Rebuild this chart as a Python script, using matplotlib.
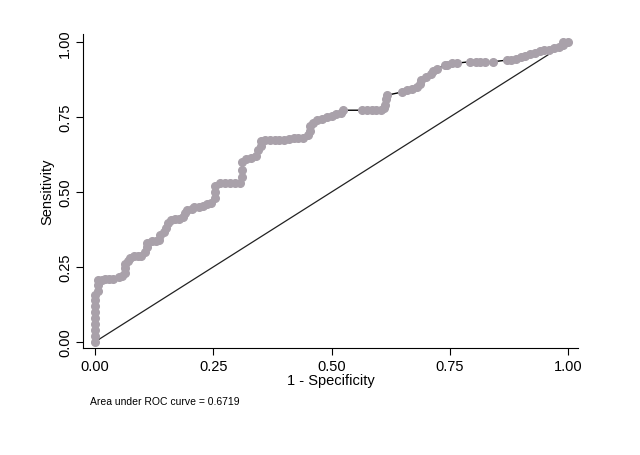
import matplotlib
matplotlib.use('Agg')
import matplotlib.pyplot as plt

plt.rcParams['font.family'] = ['Liberation Sans', 'DejaVu Sans']

# ROC points (1 - specificity, sensitivity)
fpr = [0, 0, 0, 0, 0, 0, 0, 0, 0,
       0.007, 0.007, 0.007,
       0.014, 0.022, 0.03, 0.039,
       0.05, 0.056, 0.063, 0.063, 0.063,
       0.07, 0.074, 0.082, 0.09, 0.098,
       0.105, 0.11, 0.11,
       0.12, 0.128, 0.135, 0.137,
       0.145, 0.15, 0.155, 0.16,
       0.17, 0.177, 0.185, 0.19, 0.195,
       0.205, 0.21, 0.22, 0.228, 0.236,
       0.245, 0.254, 0.254, 0.254,
       0.265, 0.275, 0.285, 0.295, 0.307,
       0.31, 0.31, 0.31,
       0.32, 0.33, 0.34, 0.345, 0.35, 0.35,
       0.36, 0.37, 0.38, 0.39, 0.40, 0.41, 0.42, 0.43, 0.44, 0.45,
       0.455, 0.455, 0.46,
       0.47, 0.48, 0.49, 0.50, 0.51, 0.52, 0.525,
       0.564, 0.575, 0.585, 0.595, 0.605, 0.61, 0.613, 0.615, 0.617,
       0.65, 0.66, 0.67, 0.68, 0.687, 0.69, 0.70, 0.71, 0.715, 0.722,
       0.74, 0.745, 0.755, 0.765,
       0.793, 0.805, 0.815, 0.825, 0.842,
       0.87, 0.88, 0.89, 0.90, 0.91, 0.92, 0.93, 0.94, 0.95, 0.96, 0.97,
       0.98, 0.99, 0.99, 1.0]
tpr = [0, 0.02, 0.04, 0.06, 0.08, 0.10, 0.12, 0.14, 0.155,
       0.17, 0.19, 0.205,
       0.207, 0.21, 0.21, 0.21,
       0.215, 0.22, 0.23, 0.245, 0.26,
       0.27, 0.28, 0.285, 0.285, 0.285,
       0.30, 0.315, 0.33,
       0.335, 0.335, 0.34, 0.355,
       0.365, 0.38, 0.395, 0.405,
       0.41, 0.41, 0.415, 0.43, 0.44,
       0.445, 0.45, 0.45, 0.455, 0.46,
       0.465, 0.48, 0.50, 0.52,
       0.53, 0.53, 0.53, 0.53, 0.53,
       0.55, 0.575, 0.60,
       0.61, 0.615, 0.62, 0.64, 0.655, 0.67,
       0.675, 0.675, 0.675, 0.675, 0.675, 0.677, 0.68, 0.68, 0.68, 0.69,
       0.705, 0.72, 0.73,
       0.74, 0.745, 0.75, 0.755, 0.76, 0.765, 0.773,
       0.773, 0.773, 0.773, 0.773, 0.775, 0.78, 0.79, 0.81, 0.823,
       0.834, 0.84, 0.845, 0.85, 0.86, 0.873, 0.885, 0.895, 0.905, 0.912,
       0.923, 0.925, 0.93, 0.93,
       0.935, 0.935, 0.935, 0.935, 0.935,
       0.94, 0.94, 0.945, 0.95, 0.955, 0.96, 0.965, 0.97, 0.975, 0.975, 0.98,
       0.985, 0.99, 1.0, 1.0]
ref_line = [0, 1]
ticks = [0, 0.25, 0.5, 0.75, 1.0]
tick_labels = ['0.00', '0.25', '0.50', '0.75', '1.00']
auc_text = 'Area under ROC curve = 0.6719'

fig = plt.figure(figsize=(6.4, 4.56), dpi=100)
ax = fig.add_axes([0.13, 0.235, 0.773, 0.688])

ax.plot(ref_line, ref_line, color='#222222', linewidth=0.9, zorder=2)
ax.plot(fpr, tpr, color='black', linewidth=1.0, marker='o', markersize=5.5,
        markerfacecolor='#a9a1aa', markeredgecolor='#a9a1aa', zorder=3)

ax.set_xlim(-0.025, 1.021)
ax.set_ylim(-0.02, 1.027)
ax.set_xticks(ticks)
ax.set_xticklabels(tick_labels, fontsize=10.5)
ax.set_yticks(ticks)
ax.set_yticklabels(tick_labels, fontsize=10.5, rotation=90, va='center')
ax.tick_params(direction='out', length=5, width=0.8, pad=3)
ax.spines['top'].set_visible(False)
ax.spines['right'].set_visible(False)
ax.set_xlabel('1 - Specificity', fontsize=10.5, labelpad=0)
ax.set_ylabel('Sensitivity', fontsize=10.5, labelpad=3)

fig.text(0.14, 0.112, auc_text, fontsize=7.5)

fig.savefig('out.png', dpi=100)
